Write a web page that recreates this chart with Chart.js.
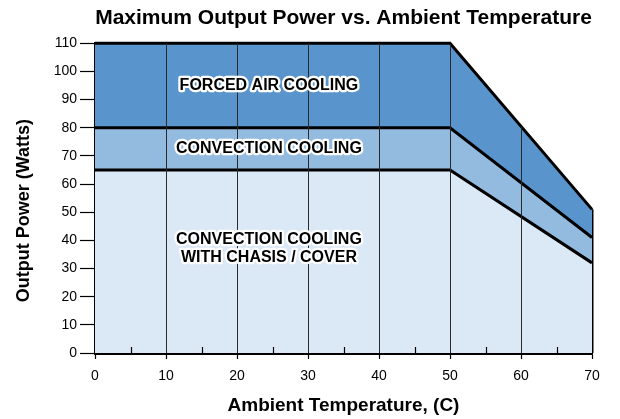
<!DOCTYPE html>
<html>
<head>
<meta charset="utf-8">
<script src="https://cdn.jsdelivr.net/npm/chart.js@4.4.1/dist/chart.umd.min.js"></script>
<style>
  html, body { margin: 0; padding: 0; background: #fff; }
  #wrap { width: 620px; height: 419px; }
</style>
</head>
<body>
<div id="wrap"><canvas id="myChart"></canvas></div>
<script>
// setup
const tempC = [0, 50, 70];
const chassisCooling = [65, 65, 32];
const convectionCooling = [80, 80, 41];
const forcedAirCooling = [110, 110, 51];
const xTickValues = [0, 10, 20, 30, 40, 50, 60, 70];
const yTickValues = [0, 10, 20, 30, 40, 50, 60, 70, 80, 90, 100, 110];
const regionNames = [
  ['CONVECTION COOLING', 'WITH CHASIS / COVER'],
  ['CONVECTION COOLING'],
  ['FORCED AIR COOLING']
];

const FONT = '"Liberation Sans", Arial, Helvetica, sans-serif';
const toPoints = vals => tempC.map((t, i) => ({ x: t, y: vals[i] }));
const last = tempC.length - 1;

// where the region names sit (data units)
const labelSpots = [
  { x: 24.5, y: 37 },
  { x: 24.5, y: 72.7 },
  { x: 24.5, y: 95.1 }
];

const data = {
  datasets: [{
    label: 'Convection Cooling with Chasis / Cover',
    data: toPoints(chassisCooling),
    backgroundColor: '#dbe8f5',
    fill: 'origin'
  }, {
    label: 'Convection Cooling',
    data: toPoints(convectionCooling),
    backgroundColor: '#93badf',
    fill: '-1'
  }, {
    label: 'Forced Air Cooling',
    data: toPoints(forcedAirCooling),
    backgroundColor: '#5995cc',
    fill: '-1'
  }, {
    label: 'edge',
    data: [{ x: tempC[last], y: 0 }, { x: tempC[last], y: forcedAirCooling[last] }],
    fill: false
  }]
};
data.datasets.forEach(ds => {
  ds.borderColor = '#000';
  ds.borderWidth = 3;
  ds.pointRadius = 0;
  ds.tension = 0;
  ds.clip = 6;
  ds.borderJoinStyle = 'miter';
});

// grid lines inside the filled shape, minor ticks and region names
const overlay = {
  id: 'overlay',
  afterDatasetsDraw(chart) {
    const { ctx, scales: { x, y } } = chart;
    const top = chart.getDatasetMeta(2).data;
    const y0 = y.getPixelForValue(0);
    ctx.save();
    ctx.beginPath();
    ctx.moveTo(top[0].x, top[0].y);
    top.forEach(p => ctx.lineTo(p.x, p.y));
    ctx.lineTo(top[top.length - 1].x, y0);
    ctx.lineTo(top[0].x, y0);
    ctx.closePath();
    ctx.clip();
    ctx.strokeStyle = '#2a2a2a';
    ctx.lineWidth = 1;
    xTickValues.slice(1, -1).forEach(v => {
      const px = Math.round(x.getPixelForValue(v)) + 0.5;
      ctx.beginPath();
      ctx.moveTo(px, y0);
      ctx.lineTo(px, y.getPixelForValue(110));
      ctx.stroke();
    });
    ctx.restore();

    ctx.save();
    ctx.strokeStyle = '#000';
    ctx.lineWidth = 1.2;
    xTickValues.slice(0, -1).forEach(v => {
      const px = Math.round(x.getPixelForValue(v + 5)) + 0.5;
      ctx.beginPath();
      ctx.moveTo(px, y0);
      ctx.lineTo(px, y0 - 6);
      ctx.stroke();
    });
    ctx.restore();

    ctx.save();
    ctx.font = 'bold 16px ' + FONT;
    ctx.textAlign = 'center';
    ctx.textBaseline = 'middle';
    ctx.lineJoin = 'round';
    regionNames.forEach((lines, i) => {
      const cx = x.getPixelForValue(labelSpots[i].x);
      const cy = y.getPixelForValue(labelSpots[i].y);
      lines.forEach((line, j) => {
        const ly = cy + (j - (lines.length - 1) / 2) * 18;
        ctx.strokeStyle = '#fff';
        ctx.lineWidth = 4.5;
        ctx.strokeText(line, cx, ly);
        ctx.fillStyle = '#000';
        ctx.fillText(line, cx, ly);
      });
    });
    ctx.restore();
  }
};

// config
const config = {
  type: 'line',
  data,
  options: {
    responsive: true,
    maintainAspectRatio: false,
    animation: false,
    layout: { padding: { left: 0, right: 28, top: 0, bottom: 0 } },
    plugins: {
      legend: { display: false },
      tooltip: { enabled: false },
      title: {
        display: true,
        fullSize: false,
        text: 'Maximum Output Power vs. Ambient Temperature',
        color: '#000',
        font: { family: FONT, size: 21, weight: 'bold' },
        padding: { top: 6, bottom: 12 }
      }
    },
    scales: {
      x: {
        type: 'linear',
        min: 0,
        max: 70,
        afterBuildTicks: s => { s.ticks = xTickValues.map(v => ({ value: v })); },
        afterFit: s => { s.height = 66; },
        ticks: { color: '#000', padding: 9, font: { family: FONT, size: 14 } },
        grid: { drawOnChartArea: false, tickLength: 6, tickColor: '#000', tickWidth: 1.2 },
        border: { color: '#000', width: 3 },
        title: {
          display: true,
          text: 'Ambient Temperature, (C)',
          color: '#000',
          font: { family: FONT, size: 19, weight: 'bold' },
          padding: { top: 0, bottom: 2 }
        }
      },
      y: {
        min: 0,
        max: 110,
        afterBuildTicks: s => { s.ticks = yTickValues.map(v => ({ value: v })); },
        afterFit: s => { s.width = 95; },
        ticks: { color: '#000', padding: 3, font: { family: FONT, size: 14 } },
        grid: { drawOnChartArea: false, tickLength: 15, tickColor: '#000', tickWidth: 1.2 },
        border: { color: '#000', width: 3 },
        title: {
          display: true,
          text: 'Output Power (Watts)\u00a0\u00a0\u00a0\u00a0\u00a0',
          color: '#000',
          font: { family: FONT, size: 18, weight: 'bold' },
          padding: { top: 13, bottom: 0 }
        }
      }
    }
  },
  plugins: [overlay]
};

// render init block
const myChart = new Chart(document.getElementById('myChart'), config);
</script>
</body>
</html>
